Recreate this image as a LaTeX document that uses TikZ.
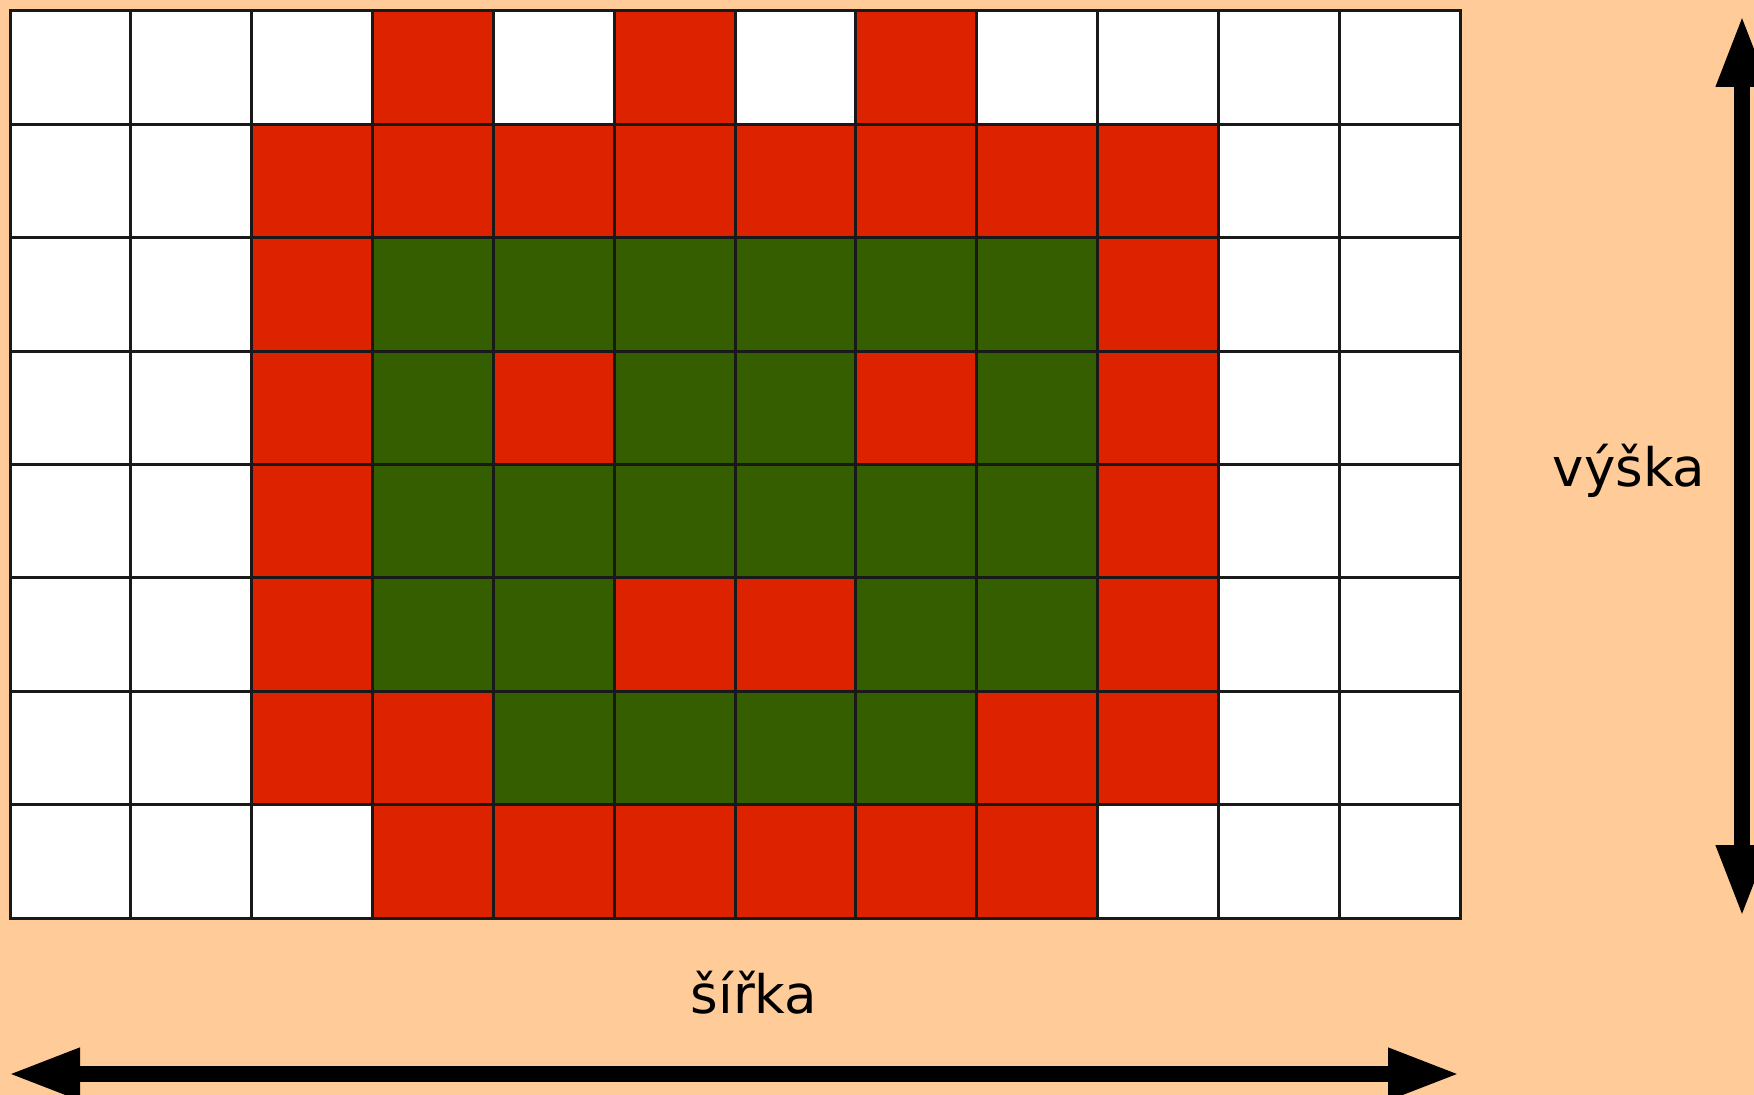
\documentclass[tikz,border=0pt]{standalone}
\usepackage{fontspec}
\setmainfont{DejaVu Sans}
\usetikzlibrary{arrows.meta}
\definecolor{bg}{RGB}{255,204,153}
\definecolor{R}{RGB}{221,34,0}
\definecolor{G}{RGB}{53,94,0}
\colorlet{W}{white}
\begin{document}
\begin{tikzpicture}[x=0.5pt,y=-0.5pt,
  gridline/.style={draw=black!90, line width=1.5pt, line cap=rect},
  dimarrow/.style={line width=8pt, {Triangle[length=36pt,width=24pt]}-{Triangle[length=36pt,width=24pt]}},
  lbl/.style={font=\fontsize{26.5}{31}\selectfont, inner sep=0pt, anchor=base}]
\fill[bg] (0,0) rectangle (1754,1095);
\useasboundingbox (0,0) rectangle (1754,1095);
\foreach \r/\pat in {
  0/{W,W,W,R,W,R,W,R,W,W,W,W},
  1/{W,W,R,R,R,R,R,R,R,R,W,W},
  2/{W,W,R,G,G,G,G,G,G,R,W,W},
  3/{W,W,R,G,R,G,G,R,G,R,W,W},
  4/{W,W,R,G,G,G,G,G,G,R,W,W},
  5/{W,W,R,G,G,R,R,G,G,R,W,W},
  6/{W,W,R,R,G,G,G,G,R,R,W,W},
  7/{W,W,W,R,R,R,R,R,R,W,W,W}}{
  \foreach \v [count=\i from 0] in \pat {
    \fill[\v] ({10+\i*120.833},{11+\r*113.375}) rectangle +(120.833,113.375);
  }
}
\foreach \i in {0,...,12} {
  \draw[gridline] ({10+\i*120.833},11) -- ({10+\i*120.833},918);
}
\foreach \r in {0,...,8} {
  \draw[gridline] (10,{11+\r*113.375}) -- (1460,{11+\r*113.375});
}
\coordinate (wl) at (8,1074);
\coordinate (wr) at (1460,1074);
\coordinate (ht) at (1742,15);
\coordinate (hb) at (1742,917);
\draw[dimarrow] (wl) -- (wr);
\draw[dimarrow] (hb) -- (ht);
\node[lbl] (sirka) at (754,1013) {šířka};
\node[lbl] (vyska) at (1629,487) {výška};
\end{tikzpicture}
\end{document}
